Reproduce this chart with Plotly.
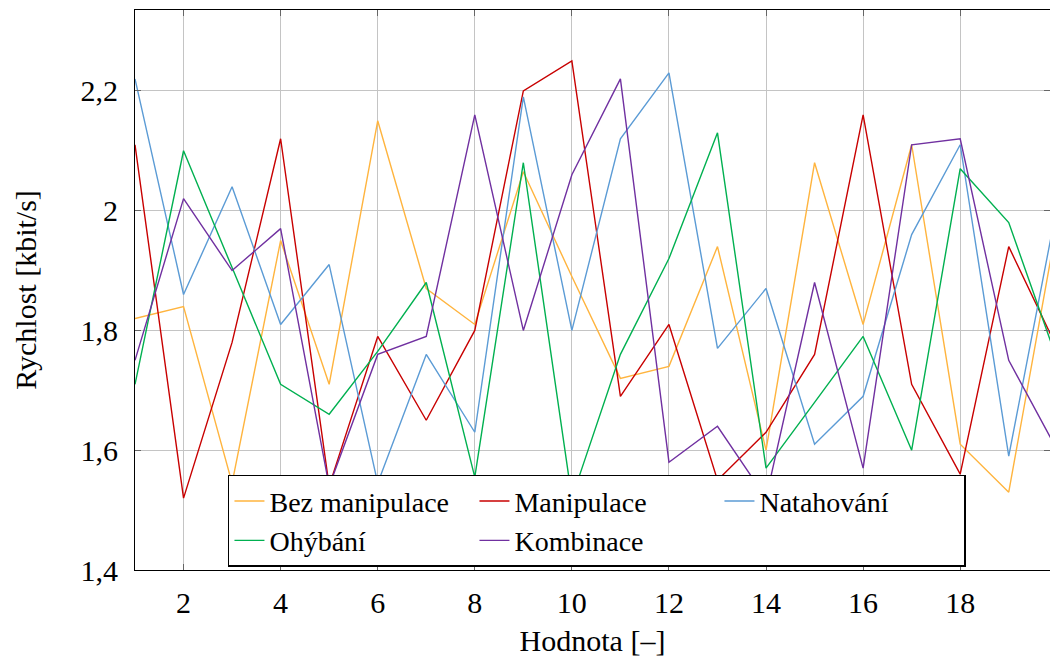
import plotly.graph_objects as go

x_vals = list(range(1, 21))

bez_manipulace = [1.82, 1.84, 1.545, 1.95, 1.71, 2.15, 1.87, 1.81, 2.065, 1.89,
                  1.72, 1.74, 1.94, 1.60, 2.08, 1.81, 2.11, 1.61, 1.53, 1.98]
manipulace = [2.11, 1.52, 1.78, 2.12, 1.54, 1.79, 1.65, 1.80, 2.20, 2.25,
              1.69, 1.81, 1.55, 1.63, 1.76, 2.16, 1.71, 1.56, 1.94, 1.77]
natahovani = [2.22, 1.86, 2.04, 1.81, 1.91, 1.545, 1.76, 1.63, 2.19, 1.80,
              2.12, 2.23, 1.77, 1.87, 1.61, 1.69, 1.96, 2.11, 1.59, 2.01]
ohybani = [1.71, 2.10, 1.905, 1.71, 1.66, 1.765, 1.88, 1.555, 2.08, 1.52,
           1.76, 1.92, 2.13, 1.57, 1.68, 1.79, 1.60, 2.07, 1.98, 1.75]
kombinace = [1.75, 2.02, 1.90, 1.97, 1.54, 1.76, 1.79, 2.16, 1.80, 2.06,
             2.22, 1.58, 1.64, 1.52, 1.88, 1.57, 2.11, 2.12, 1.75, 1.60]

series_names = ["Bez manipulace", "Manipulace", "Natahování", "Ohýbání", "Kombinace"]
series_values = [bez_manipulace, manipulace, natahovani, ohybani, kombinace]
series_colors = ["#FFB43E", "#C80000", "#5B9BD5", "#00B050", "#7030A0"]

y_ticks = [1.4, 1.6, 1.8, 2.0, 2.2]
y_tick_labels = ["1,4", "1,6", "1,8", "2", "2,2"]
x_ticks = [2, 4, 6, 8, 10, 12, 14, 16, 18, 20]
x_tick_labels = ["2", "4", "6", "8", "10", "12", "14", "16", "18", "20"]

FONT = "Liberation Serif"
FS = 30

fig = go.Figure()
for name, vals, col in zip(series_names, series_values, series_colors):
    fig.add_trace(go.Scatter(x=x_vals, y=vals, mode="lines", name=name,
                             line=dict(color=col, width=1.4)))

axis_common = dict(
    showgrid=True, gridcolor="#c4c4c4", gridwidth=1,
    showline=True, linecolor="black", linewidth=1.2, mirror="ticks",
    ticks="inside", ticklen=6, tickcolor="#666", tickwidth=1,
    zeroline=False,
    tickfont=dict(family=FONT, size=FS, color="black"),
)

fig.update_xaxes(range=[1, 19.85], tickvals=x_ticks, ticktext=x_tick_labels,
                 ticklabelstandoff=6,
                 title=dict(text="Hodnota [–]", font=dict(family=FONT, size=FS, color="black"),
                            standoff=14),
                 **axis_common)
fig.update_yaxes(range=[1.4, 2.335], tickvals=y_ticks, ticktext=y_tick_labels,
                 ticklabelstandoff=10,
                 title=dict(text="Rychlost [kbit/s]", font=dict(family=FONT, size=FS, color="black"),
                            standoff=34),
                 **axis_common)

fig.update_layout(
    width=1050, height=657,
    margin=dict(l=135, r=0, t=10, b=87, autoexpand=False),
    plot_bgcolor="white", paper_bgcolor="white",
    font=dict(family=FONT, size=FS, color="black"),
    showlegend=True,
    legend=dict(
        orientation="h", x=0.1016, y=0.17, xanchor="left", yanchor="top",
        bgcolor="white", bordercolor="black", borderwidth=1.5,
        entrywidth=200, entrywidthmode="pixels",
        font=dict(family=FONT, size=28, color="black"),
        tracegroupgap=0,
    ),
)

fig.write_html("out.html",
               config={"displayModeBar": False},
               post_script="document.body.style.margin='0';document.body.style.overflow='hidden';")
